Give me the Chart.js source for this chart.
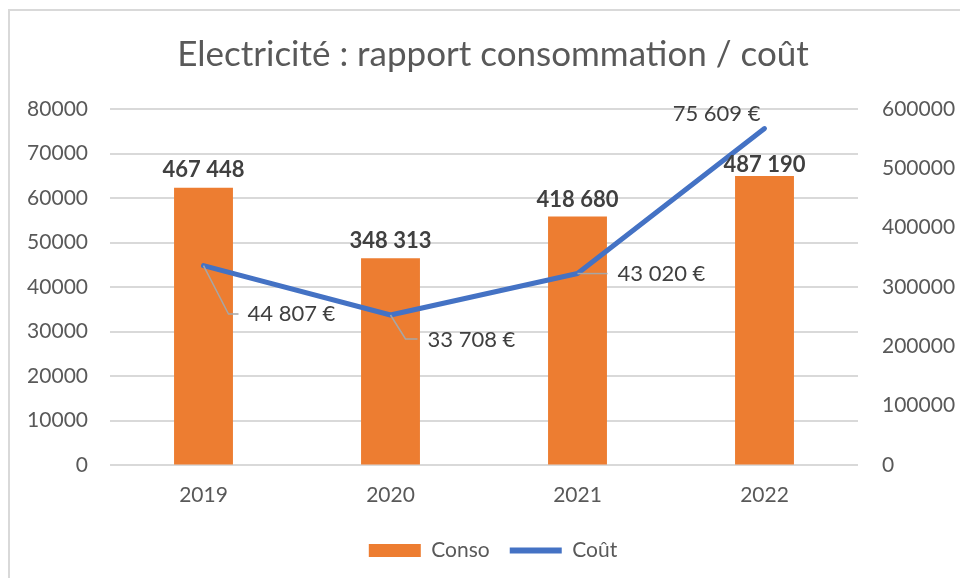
<!DOCTYPE html>
<html>
<head>
<meta charset="utf-8">
<script src="https://cdn.jsdelivr.net/npm/chart.js@4"></script>
<style>
  html, body { margin: 0; padding: 0; background: #fff; overflow: hidden; }
  #frame { position: absolute; left: 8px; top: 9px; border-left: 2px solid #d9d9d9; border-top: 2px solid #d9d9d9; }
  canvas { display: block; }
</style>
</head>
<body>
<div id="frame"><canvas id="chart" width="966" height="570"></canvas></div>
<script>
// Data
const years = ['2019', '2020', '2021', '2022'];
const conso = [467448, 348313, 418680, 487190];   // right axis
const cout = [44807, 33708, 43020, 75609];        // left axis, in €
const leftMax = 80000, leftStep = 10000;
const rightMax = 600000, rightStep = 100000;

const textColor = '#595959';
const font = 'Lato';

// thousands with a space, French style
function fmt(v) {
  return String(v).replace(/\B(?=(\d{3})+(?!\d))/g, ' ');
}

// label placement for the cost series (relative to each point)
const callouts = [
  { dx: 44, dy: 48.5, align: 'left', leader: [[0, 0], [25, 48.5], [35, 48.5]] },
  { dx: 37, dy: 24.5, align: 'left', leader: [[0, 0], [15, 24], [27, 24]] },
  { dx: 40, dy: 0, align: 'left', leader: [[0, 0], [30, 0]] },
  { dx: -4, dy: -14.5, align: 'right', leader: null }
];
const barLabelShift = [-1, 0, 0, 6];

const labelPlugin = {
  id: 'valueLabels',
  afterDatasetsDraw(chart) {
    const ctx = chart.ctx;
    ctx.save();

    // leader lines + cost labels
    const lineMeta = chart.getDatasetMeta(1);
    ctx.font = '22px ' + font;
    ctx.textBaseline = 'middle';
    lineMeta.data.forEach((pt, i) => {
      const c = callouts[i];
      if (c.leader) {
        ctx.strokeStyle = '#a6a6a6';
        ctx.lineWidth = 1.5;
        ctx.beginPath();
        c.leader.forEach(([lx, ly], k) => {
          if (k === 0) ctx.moveTo(pt.x + lx, pt.y + ly);
          else ctx.lineTo(pt.x + lx, pt.y + ly);
        });
        ctx.stroke();
      }
      ctx.fillStyle = '#404040';
      ctx.textAlign = c.align;
      ctx.fillText(fmt(cout[i]) + ' €', pt.x + c.dx, pt.y + c.dy);
    });

    // bar labels
    const barMeta = chart.getDatasetMeta(0);
    ctx.font = 'bold 22px ' + font;
    ctx.fillStyle = '#404040';
    ctx.textAlign = 'center';
    ctx.textBaseline = 'alphabetic';
    barMeta.data.forEach((bar, i) => {
      ctx.fillText(fmt(conso[i]), bar.x, bar.y - 10 + barLabelShift[i]);
    });

    ctx.restore();
  }
};

const ctx = document.getElementById('chart').getContext('2d');
new Chart(ctx, {
  type: 'bar',
  data: {
    labels: years,
    datasets: [
      {
        label: 'Conso',
        data: conso,
        backgroundColor: '#ED7D31',
        borderWidth: 0,
        pointStyle: 'rect',
        categoryPercentage: 1,
        barPercentage: 0.315,
        yAxisID: 'y1',
        order: 1
      },
      {
        type: 'line',
        label: 'Coût',
        data: cout,
        borderColor: '#4472C4',
        backgroundColor: '#4472C4',
        borderWidth: 5,
        borderCapStyle: 'round',
        borderJoinStyle: 'round',
        pointRadius: 0,
        pointHoverRadius: 0,
        pointStyle: 'line',
        pointBorderWidth: 6,
        pointBorderColor: '#4472C4',
        tension: 0,
        fill: false,
        yAxisID: 'y',
        order: 0
      }
    ]
  },
  options: {
    responsive: false,
    animation: false,
    layout: {
      padding: { left: 10, right: 10, top: 0, bottom: 10 }
    },
    plugins: {
      title: {
        display: true,
        text: 'Electricité : rapport consommation / coût',
        color: textColor,
        font: { family: font, size: 35, weight: 'normal' },
        padding: { top: 23, bottom: 33 }
      },
      legend: {
        position: 'bottom',
        labels: {
          usePointStyle: true,
          pointStyleWidth: 52,
          boxHeight: 13,
          color: textColor,
          font: { family: font, size: 21 },
          padding: 20,
          sort: (a, b) => a.datasetIndex - b.datasetIndex
        }
      },
      tooltip: { enabled: false }
    },
    scales: {
      x: {
        grid: { display: false },
        border: { display: false },
        ticks: { color: textColor, font: { family: font, size: 21 }, padding: 10 },
        afterFit(scale) { scale.height = 55; }
      },
      y: {
        position: 'left',
        min: 0,
        max: leftMax,
        ticks: {
          stepSize: leftStep,
          color: textColor,
          font: { family: font, size: 21 },
          padding: 22,
          callback: v => String(v)
        },
        grid: { color: '#d9d9d9', lineWidth: 2, drawTicks: false },
        border: { display: false },
        afterFit(scale) { scale.width = 90; }
      },
      y1: {
        position: 'right',
        min: 0,
        max: rightMax,
        ticks: {
          stepSize: rightStep,
          color: textColor,
          font: { family: font, size: 21 },
          padding: 24,
          callback: v => String(v)
        },
        grid: { drawOnChartArea: false, drawTicks: false },
        border: { display: false },
        afterFit(scale) { scale.width = 108; }
      }
    }
  },
  plugins: [labelPlugin]
});
</script>
</body>
</html>
